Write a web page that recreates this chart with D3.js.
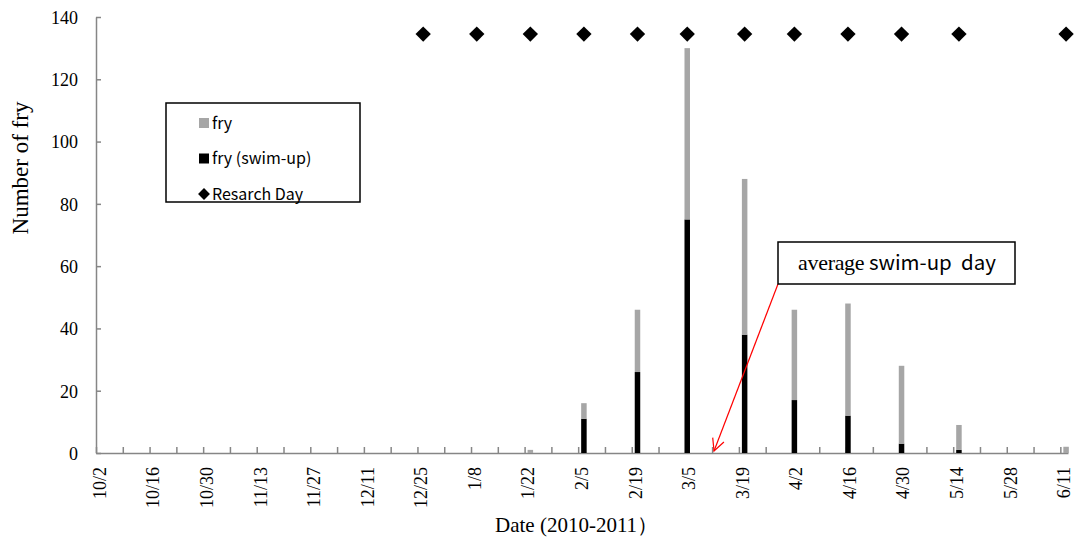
<!DOCTYPE html>
<html>
<head>
<meta charset="utf-8">
<script src="https://cdn.jsdelivr.net/npm/d3@7"></script>
<style>
  body { margin: 0; background: #fff; }
  svg { display: block; }
</style>
</head>
<body>
<div id="chart"></div>
<script>
// research days (one sample per visit)
const researchDates = ["2010-12-26", "2011-01-09", "2011-01-23", "2011-02-06", "2011-02-20", "2011-03-05",
    "2011-03-20", "2011-04-02", "2011-04-16", "2011-04-30", "2011-05-15", "2011-06-12"];
// black part of each bar
const swimUp = [0, 0, 0, 11, 26, 75, 38, 17, 12, 3, 1, 0];
// grey part stacked on top
const fry = [0, 0, 1, 5, 20, 55, 50, 29, 36, 25, 8, 2];
const researchDayLevel = 135;

const yTicks = [0, 20, 40, 60, 80, 100, 120, 140];
const averageSwimUpDay = "2011-03-12";

const legendItems = [
    {label: "fry", type: "rect", color: "#a6a6a6"},
    {label: "fry (swim-up)", type: "rect", color: "#000"},
    {label: "Resarch Day", type: "diamond", color: "#000"}
];

const W = 1078, H = 543;
const serif = "'Liberation Serif', 'Times New Roman', serif";
const gothic = "'Noto Sans CJK JP', 'DejaVu Sans', sans-serif";
const axisColor = "#868686";

const parse = d3.timeParse("%Y-%m-%d");
const fmt = d3.timeFormat("%-m/%-d");

const rows = researchDates.map((d, i) => ({date: parse(d), swimUp: swimUp[i], fry: fry[i]}));

const svg = d3.select("#chart").append("svg")
    .attr("width", W)
    .attr("height", H)
    .style("background", "#fff");

const start = parse("2010-10-02"), end = parse("2011-06-13");
let x = d3.scaleTime().domain([start, end]).range([96, 1068]);
let y = d3.scaleLinear().domain([0, 140]).range([453, 17]);

let dayW = x(d3.timeDay.offset(start, 1)) - x(start);
let cx = d => x(d) + dayW / 2;

//axes
let allTicks = d3.timeDay.range(start, d3.timeDay.offset(end, 1), 7);

let xAxis = svg.append("g")
    .attr("transform", "translate(0," + y(0) + ")")
    .call(d3.axisBottom(x).tickValues(allTicks).tickSizeInner(-6).tickSizeOuter(0).tickFormat(""));

xAxis.selectAll(".tick")
    .filter((d, i) => i % 2 === 0)
    .append("text")
    .text(d => fmt(d))
    .attr("transform", "rotate(-90)")
    .attr("x", -14)
    .attr("y", 3)
    .attr("dy", "0.35em")
    .attr("text-anchor", "end")
    .attr("fill", "#000")
    .style("font-family", serif)
    .style("font-size", "18px");

let yAxis = svg.append("g")
    .attr("transform", "translate(" + x(start) + ",0)")
    .call(d3.axisLeft(y).tickValues(yTicks).tickSizeInner(-5).tickSizeOuter(0).tickPadding(18));

yAxis.selectAll("text")
    .attr("fill", "#000")
    .attr("dy", "0.35em")
    .style("font-family", serif)
    .style("font-size", "18px");

svg.selectAll(".domain, .tick line")
    .attr("stroke", axisColor)
    .attr("stroke-width", 1.5);

//stacked bars
let stack = d3.stack().keys(["swimUp", "fry"]);
let colors = {swimUp: "#000", fry: "#a6a6a6"};

svg.selectAll(".series")
    .data(stack(rows))
    .enter()
    .append("g")
    .attr("fill", s => colors[s.key])
    .selectAll("rect")
    .data(s => s)
    .enter()
    .append("rect")
    .attr("x", d => cx(d.data.date) - 2.75)
    .attr("width", 5.5)
    .attr("y", d => y(d[1]))
    .attr("height", d => y(d[0]) - y(d[1]));

//research day diamonds
let diamond = d3.symbol().type(d3.symbolDiamond2).size(150);
svg.selectAll(".research")
    .data(rows)
    .enter()
    .append("path")
    .attr("d", diamond)
    .attr("transform", d => "translate(" + cx(d.date) + "," + (y(researchDayLevel) + 1.5) + ")")
    .attr("fill", "#000");

//axis titles
svg.append("text")
    .text("Number of fry")
    .attr("transform", "translate(28,168) rotate(-90)")
    .attr("text-anchor", "middle")
    .style("font-family", serif)
    .style("font-size", "23px");

svg.append("text")
    .text("Date (2010-2011\uFF09")
    .attr("x", 495)
    .attr("y", 532)
    .style("font-family", serif)
    .style("font-size", "21px");

//legend
let legend = svg.append("g");
legend.append("rect")
    .attr("x", 166).attr("y", 103)
    .attr("width", 194).attr("height", 99)
    .attr("fill", "#fff")
    .attr("stroke", "#000")
    .attr("stroke-width", 1.5);

let li = legend.selectAll(".item")
    .data(legendItems)
    .enter()
    .append("g")
    .attr("transform", (d, i) => "translate(204," + (123 + i * 35.5) + ")");

li.filter(d => d.type === "rect")
    .append("rect")
    .attr("x", -5).attr("y", -5)
    .attr("width", 10).attr("height", 10)
    .attr("fill", d => d.color);

li.filter(d => d.type === "diamond")
    .append("path")
    .attr("d", d3.symbol().type(d3.symbolDiamond2).size(90))
    .attr("fill", d => d.color);

li.append("text")
    .text(d => d.label)
    .attr("x", 8)
    .attr("dy", "0.35em")
    .style("font-family", gothic)
    .style("font-size", "16px");

//average swim-up day annotation
let box = {x: 778, y: 242, w: 237, h: 42};

svg.append("defs").append("marker")
    .attr("id", "openArrow")
    .attr("viewBox", "0 0 14 14")
    .attr("refX", 13).attr("refY", 7)
    .attr("markerWidth", 14).attr("markerHeight", 14)
    .attr("markerUnits", "userSpaceOnUse")
    .attr("orient", "auto")
    .append("path")
    .attr("d", "M1,1 L13,7 L1,13")
    .attr("fill", "none")
    .attr("stroke", "red")
    .attr("stroke-width", 1.2);

svg.append("line")
    .attr("x1", box.x).attr("y1", box.y + box.h)
    .attr("x2", cx(parse(averageSwimUpDay))).attr("y2", y(0) - 2)
    .attr("stroke", "red")
    .attr("stroke-width", 1.2)
    .attr("marker-end", "url(#openArrow)");

svg.append("rect")
    .attr("x", box.x).attr("y", box.y)
    .attr("width", box.w).attr("height", box.h)
    .attr("fill", "#fff")
    .attr("stroke", "#000")
    .attr("stroke-width", 1.5);

let ann = svg.append("text")
    .attr("x", 798)
    .attr("y", 270);
ann.append("tspan")
    .text("average")
    .style("font-family", serif)
    .style("font-size", "22px")
    .style("letter-spacing", "-0.3px");
ann.append("tspan")
    .text("\u00A0swim-up\u00A0\u00A0day")
    .style("font-family", gothic)
    .style("font-size", "20.5px");
</script>
</body>
</html>
